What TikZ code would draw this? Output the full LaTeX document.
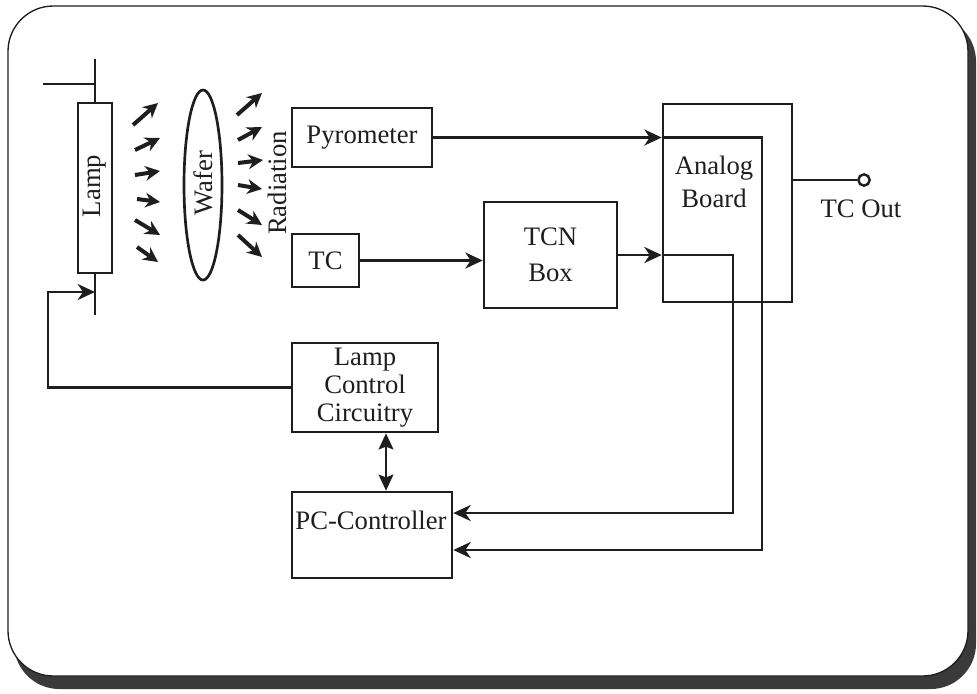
\documentclass[tikz,border=0pt]{standalone}
\usepackage{fontspec}
\setmainfont{Liberation Serif}
\usetikzlibrary{arrows.meta,shapes.geometric}
\definecolor{ink}{HTML}{1E1E1E}
\definecolor{shadowc}{HTML}{3A3A3A}
\begin{document}
\begin{tikzpicture}[x=0.75pt,y=-0.75pt,
  box/.style={draw=ink, line width=2pt, inner sep=0pt, text=ink, align=center,
              font=\fontsize{20}{23}\selectfont},
  txt/.style={inner sep=0pt, text=ink, align=center, font=\fontsize{20}{23}\selectfont},
  wire/.style={draw=ink, line width=2pt},
  arr/.style={wire, -{Stealth[length=13pt,width=12pt,inset=4pt]}},
  darr/.style={wire, {Stealth[length=12pt,width=11pt,inset=2pt]}-{Stealth[length=12pt,width=11pt,inset=2pt]}},
  ray/.style={wire, line width=3pt, -{Stealth[length=11pt,width=11pt,inset=3.5pt]}}
]
\useasboundingbox (0,0) rectangle (977,693);
% frame with shadow
\fill[shadowc, rounded corners=34pt] (14,16) rectangle (976,689);
\filldraw[fill=white, draw=ink, line width=1pt, rounded corners=34pt] (8,6) rectangle (968,676);

% lamp and wafer
\node[box, minimum width=25.5pt, minimum height=127.5pt] (lamp) at (95,188) {};
\node[txt, rotate=90] (lamptxt) at (95,186) {Lamp};
\node[box, ellipse, minimum width=28.5pt, minimum height=142.5pt] (wafer) at (203,185) {};
\node[txt, rotate=90] (wafertxt) at (203,183) {Wafer};
\node[txt, rotate=90] (radtxt) at (277,183) {Radiation};

% lamp wires
\coordinate (ltop) at (95,59);
\coordinate (lhl) at (43,84);
\coordinate (lbot) at (95,315);
\draw[wire] (lamp.north) -- (ltop);
\draw[wire] (lhl) -- (lhl -| lamp.north);
\draw[wire] (lamp.south) -- (lbot);

% rays
\foreach \a/\b/\c/\d in {133/125/158/103, 135/150/160/138, 135/175/160/171, 137/199/160/202, 135/220/160/235, 137/247/158/262,
                         237/115/262/93, 238/140/262/127, 238/163/263/160, 238/185/262/189, 238/210/262/225, 238/235/262/257}
  \draw[ray] (\a,\b) -- (\c,\d);

% blocks
\node[box, minimum width=105pt, minimum height=44.25pt] (pyro) at (362,137.5) {Pyrometer};
\node[box, minimum width=50.25pt, minimum height=39.75pt] (tc) at (325.5,260.5) {TC};
\node[box, minimum width=99.75pt, minimum height=79.5pt, font=\fontsize{20}{27}\selectfont] (tcn) at (550.5,255) {TCN\\Box};
\node[box, minimum width=96.75pt, minimum height=148.5pt] (analog) at (727.5,203) {};
\node[txt, font=\fontsize{20}{25}\selectfont] (analogtxt) at (714,182) {Analog\\Board};
\node[box, minimum width=109.5pt, minimum height=66.75pt, font=\fontsize{20}{21}\selectfont] (lcc) at (365,387.5) {Lamp\\Control\\Circuitry};
\node[box, minimum width=120pt, minimum height=64.5pt] (pc) at (372,535) {};
\node[txt] (pctxt) at (371,520) {PC-Controller};

% TC out
\node[draw=ink, circle, line width=1.8pt, minimum size=8.5pt, inner sep=0pt] (tcout) at (864,180) {};
\node[txt] (tcouttxt) at (861,209) {TC Out};
\draw[wire] (analog.east |- tcout) -- (tcout.west);

% connectors
\coordinate (pyin) at (pyro.east -| analog.west);
\coordinate (tcnin) at (tcn.east -| analog.west);
\coordinate (r1) at (762,550);
\coordinate (r2) at (733,513);
\draw[arr] (pyro.east) -- (pyin);
\draw[arr] (pyin) -| (r1) -- (r1 -| pc.east);
\draw[arr] (tc.east) -- (tc.east -| tcn.west);
\draw[arr] (tcn.east) -- (tcnin);
\draw[arr] (tcnin) -| (r2) -- (r2 -| pc.east);
\draw[darr] (386,0 |- lcc.south) -- (386,0 |- pc.north);
\coordinate (lc1) at (48,387.5);
\coordinate (lc2) at (48,292);
\draw[arr] (lcc.west) -- (lc1) -- (lc2) -- (lc2 -| lamp.south);
\end{tikzpicture}
\end{document}
